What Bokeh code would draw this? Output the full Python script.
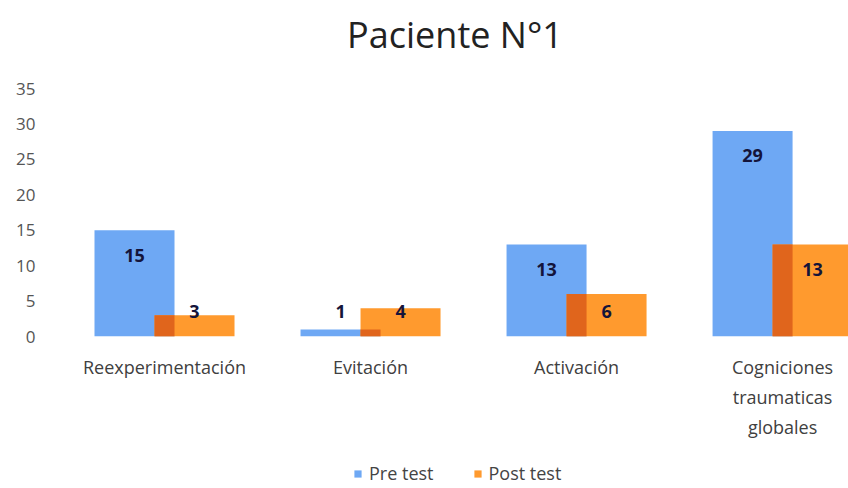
import numpy as np
from bokeh.plotting import figure
from bokeh.layouts import column
from bokeh.models import Range1d, ColumnDataSource, Legend, LegendItem, FixedTicker
from bokeh.core.properties import value
from bokeh.embed import file_html
from bokeh.resources import INLINE

title_text = "Paciente N°1"
categories = ["Reexperimentación", "Evitación", "Activación", "Cogniciones\ntraumaticas\nglobales"]
pre_test = [15, 1, 13, 29]
post_test = [3, 4, 6, 13]
y_ticks = [0, 5, 10, 15, 20, 25, 30, 35]
series_names = ["Pre test", "Post test"]

BLUE = "#6EA8F4"
ORANGE = "#FF9A2E"
OVERLAP = "#E0651C"
FONT = "Open Sans"

idx = np.arange(len(categories))
pre = np.array(pre_test, dtype=float)
post = np.array(post_test, dtype=float)

off = 30 / 206
bw = 80 / 206
ov_w = bw - 2 * off

src = ColumnDataSource(dict(
    xpre=idx - off, xpost=idx + off, xov=idx.astype(float),
    pre=pre, post=post, ov=np.minimum(pre, post),
    lpre=np.maximum(pre - 3.5, 3.5), lpost=np.maximum(post - 3.5, 3.5),
    tpre=[str(v) for v in pre_test], tpost=[str(v) for v in post_test],
))

def strip(height):
    f = figure(width=848, height=height, output_backend="svg", toolbar_location=None,
               x_range=Range1d(-0.5, 3.32), y_range=Range1d(100, 101),
               min_border_left=61, min_border_right=0, min_border_top=0, min_border_bottom=0)
    f.axis.visible = False
    f.grid.visible = False
    f.outline_line_color = None
    f.border_fill_color = "white"
    return f

# title strip
tt = strip(78)
tt.title.text = title_text
tt.title.align = "center"
tt.title.vertical_align = "bottom"
tt.title.text_font = FONT
tt.title.text_font_size = "36px"
tt.title.text_font_style = "normal"
tt.title.text_color = "#222222"
tt.title.standoff = 15

# main chart
p = figure(width=848, height=380, output_backend="svg", toolbar_location=None,
           x_range=Range1d(-0.5, 3.32), y_range=Range1d(0, 35),
           min_border_left=61, min_border_right=0, min_border_top=10, min_border_bottom=122)
p.outline_line_color = None
p.grid.visible = False
p.background_fill_color = "white"
p.border_fill_color = "white"

p.vbar(x="xpre", top="pre", bottom=0, width=bw, source=src, fill_color=BLUE, line_color=None)
p.vbar(x="xpost", top="post", bottom=0, width=bw, source=src, fill_color=ORANGE, line_color=None)
p.vbar(x="xov", top="ov", bottom=0, width=ov_w, source=src, fill_color=OVERLAP, line_color=None)

p.text(x="xpre", y="lpre", text="tpre", source=src, text_align="center", text_baseline="middle",
       text_font=value(FONT), text_font_size="18px", text_font_style="bold", text_color="#14143a")
p.text(x="xpost", y="lpost", text="tpost", source=src, text_align="center", text_baseline="middle",
       text_font=value(FONT), text_font_size="18px", text_font_style="bold", text_color="#14143a")

p.xaxis.ticker = FixedTicker(ticks=list(idx))
p.xaxis.major_label_overrides = {int(i): c for i, c in zip(idx, categories)}
p.xaxis.axis_line_color = None
p.xaxis.major_tick_line_color = None
p.xaxis.minor_tick_line_color = None
p.xaxis.major_label_text_font = FONT
p.xaxis.major_label_text_font_size = "18px"
p.xaxis.major_label_text_color = "#404040"
p.xaxis.major_label_text_line_height = 1.26
p.xaxis.major_label_standoff = 12

p.yaxis.ticker = FixedTicker(ticks=y_ticks)
p.yaxis.axis_line_color = None
p.yaxis.major_tick_line_color = None
p.yaxis.minor_tick_line_color = None
p.yaxis.major_label_text_font = FONT
p.yaxis.major_label_text_font_size = "17px"
p.yaxis.major_label_text_color = "#555555"
p.yaxis.major_label_standoff = 20

# legend strip (bars lie outside this strip's visible range; only the legend shows)
lg = strip(30)
lr_pre = lg.vbar(x="xpre", top="pre", bottom=0, width=bw, source=src, fill_color=BLUE, line_color=None)
lr_post = lg.vbar(x="xpost", top="post", bottom=0, width=bw, source=src, fill_color=ORANGE, line_color=None)
legend = Legend(items=[LegendItem(label=series_names[0], renderers=[lr_pre]),
                       LegendItem(label=series_names[1], renderers=[lr_post])],
                orientation="horizontal", location=(292, 3),
                label_text_font=FONT, label_text_font_size="18px", label_text_color="#444444",
                glyph_width=9, glyph_height=9, label_standoff=7, spacing=39,
                padding=0, margin=0, border_line_color=None, background_fill_alpha=0)
lg.add_layout(legend, "center")

layout = column(tt, p, lg, spacing=0)
open("out.html", "w").write(file_html(layout, INLINE))
